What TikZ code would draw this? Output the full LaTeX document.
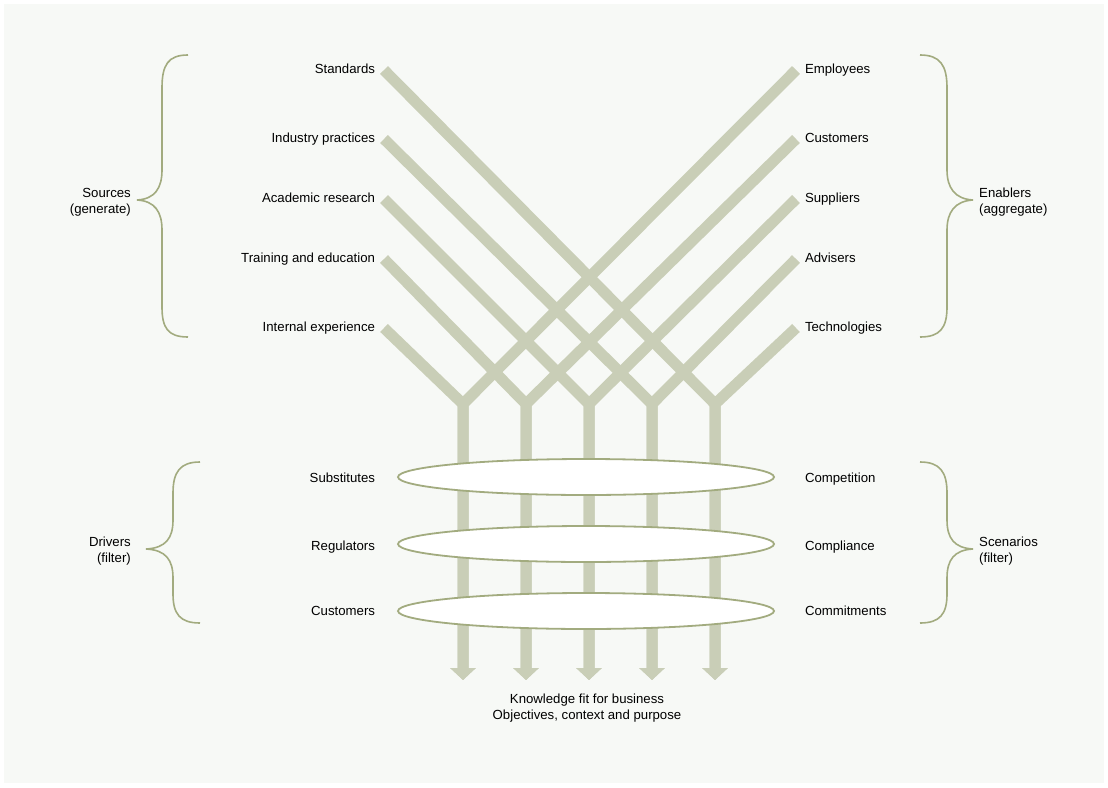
\documentclass[tikz,border=0pt]{standalone}
\usepackage{fontspec}
\setmainfont{Liberation Sans}
\usetikzlibrary{arrows.meta,shapes.geometric,positioning}
\definecolor{bandgrey}{RGB}{201,206,183}
\definecolor{olivedraw}{RGB}{162,171,127}
\definecolor{paper}{RGB}{247,249,246}
\tikzset{
  band/.style={
      draw=bandgrey,
      line width=11pt,
      line join=miter,
      -{Triangle[width=25pt,length=12pt]}
  },
  lens/.style={
      ellipse,
      draw=olivedraw,
      line width=1.8pt,
      fill=white,
      minimum width=376pt,
      minimum height=36pt,
      inner sep=0pt
  },
  curly/.style={
      draw=olivedraw,
      line width=1.6pt
  },
  lbl/.style={
      inner sep=0pt,
      outer xsep=9pt,
      text height=1.5ex,
      text depth=.25ex,
      font=\fontsize{13.2}{16}\selectfont
  },
  grp/.style={
      inner sep=0pt,
      font=\fontsize{13.2}{16}\selectfont
  }
}

\begin{document}
\begin{tikzpicture}[x=1pt,y=-1pt]
    \useasboundingbox (0,0) rectangle (1108,787);
    \fill[white] (0,0) rectangle (1108,787);
    \fill[paper] (4,4) rectangle (1104,783);

    % sources on the left
    \node[lbl,anchor=east] (std) at (384,70) {Standards};
    \node[lbl,anchor=east] (ind) at (384,139) {Industry practices};
    \node[lbl,anchor=east] (acad) at (384,199) {Academic research};
    \node[lbl,anchor=east] (train) at (384,259) {Training and education};
    \node[lbl,anchor=east] (intern) at (384,328) {Internal experience};

    % enablers on the right
    \node[lbl,anchor=west] (empl) at (796,70) {Employees};
    \node[lbl,anchor=west] (cust) at (796,139) {Customers};
    \node[lbl,anchor=west] (supp) at (796,199) {Suppliers};
    \node[lbl,anchor=west] (adv) at (796,259) {Advisers};
    \node[lbl,anchor=west] (tech) at (796,328) {Technologies};

    % junctions and arrow ends
    \coordinate (a1) at (463,404);
    \coordinate (a2) at (526,404);
    \coordinate (a3) at (589,404);
    \coordinate (a4) at (652,404);
    \coordinate (a5) at (715,404);
    \coordinate (t1) at (463,680);
    \coordinate (t2) at (526,680);
    \coordinate (t3) at (589,680);
    \coordinate (t4) at (652,680);
    \coordinate (t5) at (715,680);

    \draw[band] (std.east) -- (a5) -- (t5);
    \draw[band] (ind.east) -- (a4) -- (t4);
    \draw[band] (acad.east) -- (a3) -- (t3);
    \draw[band] (train.east) -- (a2) -- (t2);
    \draw[band] (intern.east) -- (a1) -- (t1);
    \draw[band] (empl.west) -- (a1) -- (t1);
    \draw[band] (cust.west) -- (a2) -- (t2);
    \draw[band] (supp.west) -- (a3) -- (t3);
    \draw[band] (adv.west) -- (a4) -- (t4);
    \draw[band] (tech.west) -- (a5) -- (t5);

    % filters
    \node[lens] (filt1) at (586,477) {};
    \node[lens] (filt2) at (586,544) {};
    \node[lens] (filt3) at (586,611) {};

    \node[lbl,anchor=east] (subst) at (384,479) {Substitutes};
    \node[lbl,anchor=east] (regul) at (384,547) {Regulators};
    \node[lbl,anchor=east] (custm) at (384,612) {Customers};
    \node[lbl,anchor=west] (compet) at (796,479) {Competition};
    \node[lbl,anchor=west] (compl) at (796,547) {Compliance};
    \node[lbl,anchor=west] (commit) at (796,612) {Commitments};

    % braces
    \draw[curly] (188,55) .. controls (168,55) and (162,65) .. (162,88)
      -- (162,170) .. controls (162,188) and (155,199) .. (137,200)
      .. controls (155,201) and (162,212) .. (162,230)
      -- (162,307) .. controls (162,328) and (168,337) .. (188,337);
    \draw[curly] (920,55) .. controls (940,55) and (947,65) .. (947,88)
      -- (947,170) .. controls (947,188) and (955,199) .. (973,200)
      .. controls (955,201) and (947,212) .. (947,230)
      -- (947,307) .. controls (947,328) and (940,337) .. (920,337);
    \draw[curly] (200,462) .. controls (180,462) and (173,472) .. (173,493)
      -- (173,520) .. controls (173,538) and (166,548) .. (146,549)
      .. controls (166,550) and (173,560) .. (173,578)
      -- (173,594) .. controls (173,614) and (180,623) .. (200,623);
    \draw[curly] (920,462) .. controls (940,462) and (947,472) .. (947,493)
      -- (947,520) .. controls (947,538) and (954,548) .. (973,549)
      .. controls (954,550) and (947,560) .. (947,578)
      -- (947,594) .. controls (947,614) and (940,623) .. (920,623);

    \node[grp,align=right,anchor=east] (src) at (131,202) {Sources\\(generate)};
    \node[grp,align=left,anchor=west] (enab) at (979,202) {Enablers\\(aggregate)};
    \node[grp,align=right,anchor=east] (drv) at (131,551) {Drivers\\(filter)};
    \node[grp,align=left,anchor=west] (scen) at (979,551) {Scenarios\\(filter)};

    \node[grp,align=center] (fit) at (587,708) {Knowledge fit for business\\Objectives, context and purpose};
  \end{tikzpicture}
\end{document}
